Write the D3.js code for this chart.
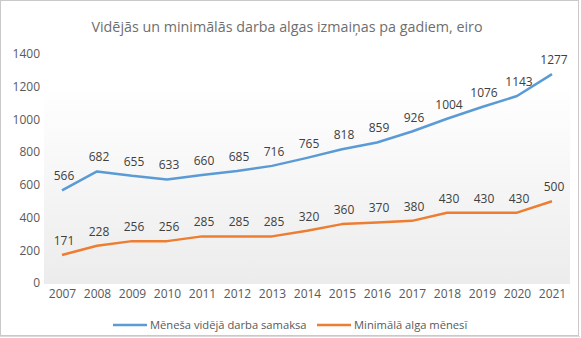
<!DOCTYPE html>
<html>
<head>
<meta charset="utf-8">
<script src="https://cdn.jsdelivr.net/npm/d3@7"></script>
<style>
  body { margin: 0; background: #fff; }
  text { font-family: "Open Sans", "Noto Sans", sans-serif; }
</style>
</head>
<body>
<div id="canvas"></div>
<script>
// data
var years = [2007,2008,2009,2010,2011,2012,2013,2014,2015,2016,2017,2018,2019,2020,2021];
var avgWage = [566,682,655,633,660,685,716,765,818,859,926,1004,1076,1143,1277];
var minWage = [171,228,256,256,285,285,285,320,360,370,380,430,430,430,500];
var yTicks = [0,200,400,600,800,1000,1200,1400];
var seriesNames = ['Mēneša vidējā darba samaksa', 'Minimālā alga mēnesī'];
var seriesColors = ['#5b9bd5', '#ed7d31'];

var W = 581, H = 338;

var svg = d3.select('#canvas')
    .append('svg')
    .attr('width', W)
    .attr('height', H);

// outer frame
svg.append('rect')
    .attr('x', 0.5).attr('y', 0.5)
    .attr('width', 578).attr('height', 335)
    .attr('fill', '#fff')
    .attr('stroke', '#c9c9c9');
svg.append('line')
    .attr('x1', 0).attr('x2', 580)
    .attr('y1', 336.5).attr('y2', 336.5)
    .attr('stroke', '#dadada');

// gradient for plot background
var grad = svg.append('defs').append('linearGradient')
    .attr('id', 'bg').attr('x1', 0).attr('y1', 0).attr('x2', 0).attr('y2', 1);
grad.append('stop').attr('offset', '0%').attr('stop-color', '#ffffff');
grad.append('stop').attr('offset', '100%').attr('stop-color', '#ececec');

var scaleX = d3.scalePoint()
    .domain(years)
    .range([62, 552]);
var scaleY = d3.scaleLinear()
    .domain([0, 1400])
    .range([283, 54]);

svg.append('rect')
    .attr('x', 44).attr('y', scaleY(1200))
    .attr('width', 526).attr('height', scaleY(0) - scaleY(1200) + 1)
    .attr('fill', 'url(#bg)');

// title
svg.append('text')
    .attr('x', 287).attr('y', 32)
    .attr('text-anchor', 'middle')
    .style('font-size', '14.3px')
    .style('fill', '#6e6e6e')
    .text('Vidējās un minimālās darba algas izmaiņas pa gadiem, eiro');

// y axis
var axisY = d3.axisLeft(scaleY)
    .tickValues(yTicks)
    .tickFormat(d3.format('d'))
    .tickSize(0)
    .tickPadding(0);
var gy = svg.append('g')
    .attr('transform', 'translate(40,0)')
    .call(axisY);
gy.select('.domain').remove();
gy.selectAll('text')
    .attr('x', 0)
    .style('font-family', '"Open Sans", sans-serif')
    .style('font-size', '12px')
    .style('fill', '#595959');

// x axis
var axisX = d3.axisBottom(scaleX).tickSize(0).tickPadding(0);
var gx = svg.append('g')
    .attr('transform', 'translate(0,289)')
    .call(axisX);
gx.select('.domain').remove();
gx.selectAll('text')
    .attr('dy', '0.71em')
    .style('font-family', '"Open Sans", sans-serif')
    .style('font-size', '12px')
    .style('fill', '#595959');

var line = d3.line()
    .x(function(d, i){ return scaleX(years[i]); })
    .y(function(d){ return scaleY(d); });

[avgWage, minWage].forEach(function(series, k){
    svg.append('path')
        .datum(series)
        .attr('d', line)
        .attr('fill', 'none')
        .attr('stroke', seriesColors[k])
        .attr('stroke-width', 2.5)
        .attr('stroke-linejoin', 'round');

    svg.selectAll('.lbl' + k)
        .data(series)
        .enter()
        .append('text')
        .attr('class', 'lbl' + k)
        .attr('x', function(d, i){ return scaleX(years[i]) + 2; })
        .attr('y', function(d){ return scaleY(d) - 10; })
        .attr('text-anchor', 'middle')
        .style('font-size', '12px')
        .style('fill', '#404040')
        .text(function(d){ return d; });
});

// legend
var legend = svg.append('g').attr('transform', 'translate(0,325)');
var legendX = [113, 317];
seriesNames.forEach(function(name, k){
    legend.append('line')
        .attr('x1', legendX[k]).attr('x2', legendX[k] + 34)
        .attr('y1', 0).attr('y2', 0)
        .attr('stroke', seriesColors[k])
        .attr('stroke-width', 2.5);
    legend.append('text')
        .attr('x', legendX[k] + 37)
        .attr('y', 4)
        .style('font-size', '11.2px')
        .style('fill', '#595959')
        .text(name);
});
</script>
</body>
</html>
